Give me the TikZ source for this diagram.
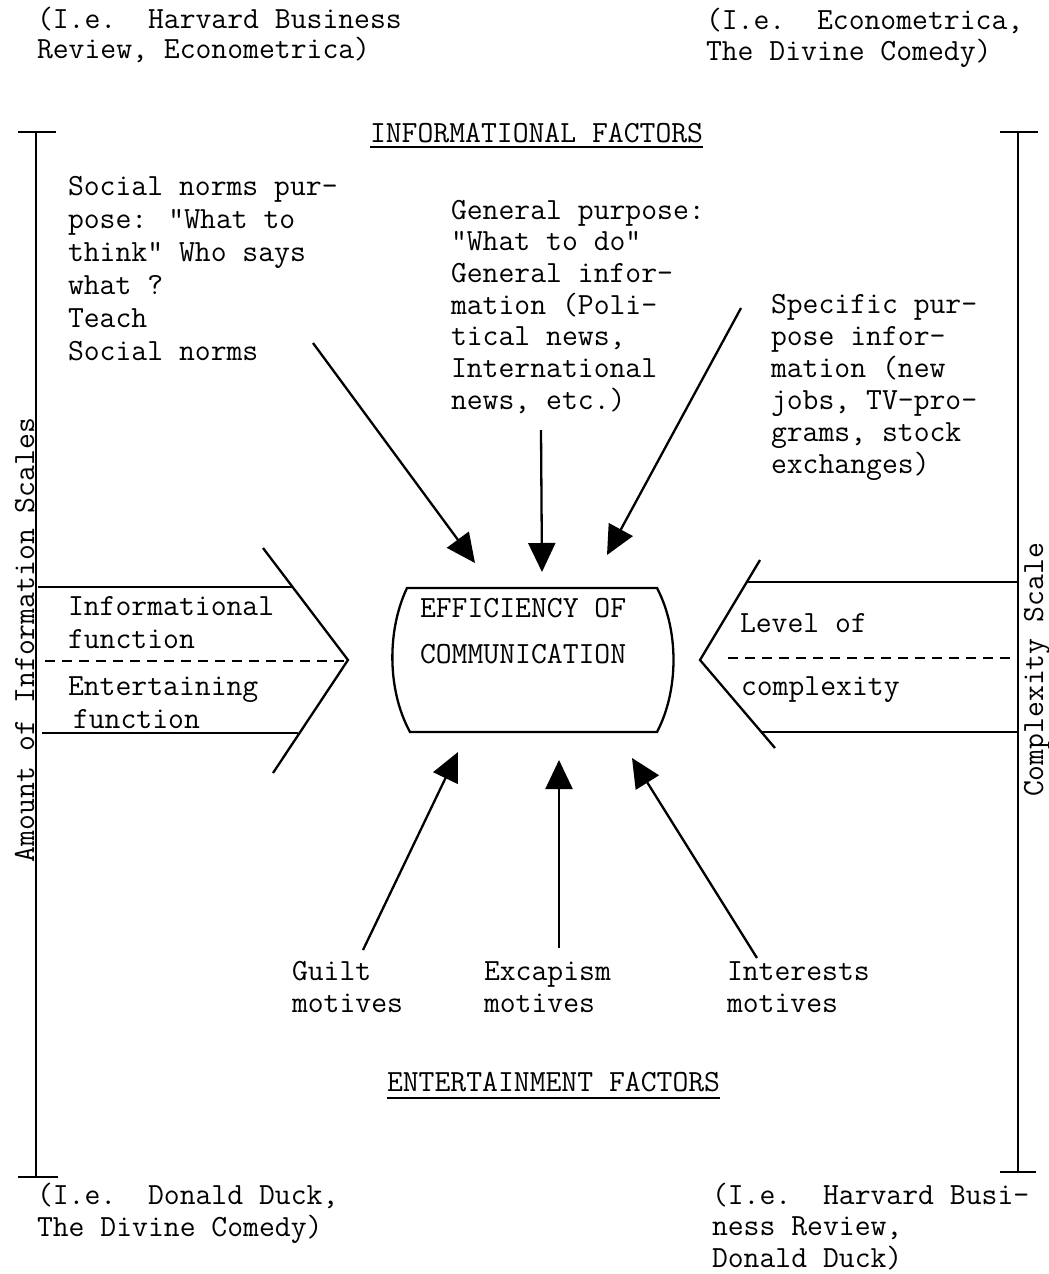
\documentclass[tikz,border=0pt]{standalone}
\usetikzlibrary{arrows.meta}
\newcommand\fl{\rule{0pt}{24pt}}
\newcommand\nols{\lineskiplimit=-50pt\relax\lineskip=0pt\relax}
\tikzset{
  tt/.style={font={\ttfamily\fontsize{30.8}{#1}\selectfont\nols}, align=left, anchor=north west},
  tt/.default=32,
  rt/.style={font={\ttfamily\fontsize{30.8}{32}\selectfont}, rotate=90, anchor=base},
  ln/.style={line width=2.3pt},
  bar/.style={line width=2.8pt},
  arr/.style={line width=2.3pt, -{Triangle[length=29pt,width=27pt]}},
  dsh/.style={line width=1.9pt, dash pattern=on 10pt off 7pt},
  ul/.style={line width=1.8pt}
}
\begin{document}
\begin{tikzpicture}[x=1pt,y=-1pt,
  every node/.style={inner sep=0pt, outer sep=0pt}]
\useasboundingbox (0,0) rectangle (1049,1274);

% corner texts
\node[tt=30] (tl) at (37,4) {\fl(I.e.\ \ Harvard Business\\Review, Econometrica)};
\node[tt=31] (tr) at (706,5) {\fl(I.e.\ \ Econometrica,\\The Divine Comedy)};
\node[tt=32] (bl) at (37,1180) {\fl(I.e.\ \ Donald Duck,\\The Divine Comedy)};
\node[tt=31.5] (br) at (712,1180) {\fl(I.e.\ \ Harvard Busi-\\ness Review,\\Donald Duck)};

% headings
\node[tt] (inf) at (370,118) {\fl INFORMATIONAL FACTORS};
\draw[ul] ([yshift=-5pt]inf.south west) -- ([yshift=-5pt]inf.south east);
\node[tt] (ent) at (387,1067) {\fl ENTERTAINMENT FACTORS};
\draw[ul] ([yshift=-7pt]ent.south west) -- ([yshift=-7pt]ent.south east);

% scale bars
\draw[bar] (18,132) -- (56,132);
\draw[bar] (36,132) -- (36,1177);
\draw[bar] (18,1177) -- (58,1177);
\draw[bar] (1000,132) -- (1038,132);
\draw[bar] (1018,132) -- (1018,1172);
\draw[bar] (1000,1172) -- (1036,1172);
\node[rt] (amt) at (34,640) {Amount of Information Scales};
\node[rt] (cpx) at (1043,670) {Complexity Scale};

% upper texts
\node[tt=33] (soc) at (68,171) {\fl Social norms pur-\\pose: "What to\\think" Who says\\what ?\\Teach\\Social norms};
\node[tt=31.7] (gen) at (451,195) {\fl General purpose:\\"What to do"\\General infor-\\mation (Poli-\\tical news,\\International\\news, etc.)};
\node[tt=32] (spec) at (771,289) {\fl Specific pur-\\pose infor-\\mation (new\\jobs, TV-pro-\\grams, stock\\exchanges)};

% central box
\draw[ln] (407,588) -- (657,588) .. controls (679,630) and (679,690) .. (657,732)
  -- (410,732) .. controls (387,690) and (387,630) .. (407,588) -- cycle;
\node[tt=46] (eff) at (420,593) {\fl EFFICIENCY OF\\COMMUNICATION};

% left arrow shape
\draw[ln] (38,587) -- (292,587);
\draw[ln] (42,733) -- (298,733);
\draw[ln] (263,548) -- (348,660) -- (273,773);
\draw[dsh] (45,661) -- (346,661);
\node[tt=33] (infn) at (68,591) {\fl Informational\\function};
\node[tt=33] (entf) at (68,671) {\fl Entertaining\\\hspace*{5pt}function};

% right arrow shape
\draw[ln] (747,582) -- (1017,582);
\draw[ln] (762,732) -- (1017,732);
\draw[ln] (760,560) -- (700,660) -- (775,748);
\draw[dsh] (728,658) -- (1013,658);
\node[tt] (lvl) at (740,608) {\fl Level of};
\node[tt] (cmp) at (741,671) {\fl complexity};

% lower texts
\node[tt=32] (gui) at (292,956) {\fl Guilt\\motives};
\node[tt=32] (exc) at (484,956) {\fl Excapism\\motives};
\node[tt=32] (int) at (727,956) {\fl Interests\\motives};

% arrow end points
\coordinate (s1) at (313,343); \coordinate (e1) at (475,563);
\coordinate (s2) at (541,430); \coordinate (e2) at (542,572);
\coordinate (s3) at (741,308); \coordinate (e3) at (607,555);
\coordinate (s4) at (363,950); \coordinate (e4) at (458,752);
\coordinate (s5) at (559,948); \coordinate (e5) at (559,760);
\coordinate (s6) at (757,958); \coordinate (e6) at (632,758);
\draw[arr] (s1) -- (e1);
\draw[arr] (s2) -- (e2);
\draw[arr] (s3) -- (e3);
\draw[arr] (s4) -- (e4);
\draw[arr] (s5) -- (e5);
\draw[arr] (s6) -- (e6);
\end{tikzpicture}
\end{document}
